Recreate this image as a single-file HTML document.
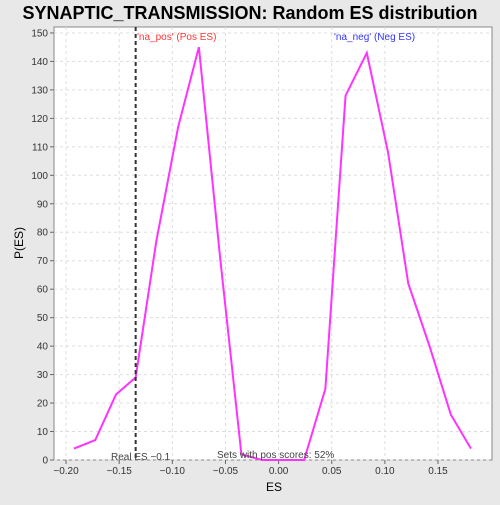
<!DOCTYPE html>
<html><head><meta charset="utf-8"><style>
body{margin:0;background:#e8e8e8;width:500px;height:500px;overflow:hidden;font-family:"Liberation Sans","DejaVu Sans",sans-serif}
</style></head><body>
<svg id="c" width="500" height="500" xmlns="http://www.w3.org/2000/svg">
<text x="250" y="19" text-anchor="middle" font-size="18" font-weight="bold" fill="#000">SYNAPTIC_TRANSMISSION: Random ES distribution</text>
<rect x="54" y="27" width="438" height="433" fill="#fff" stroke="#888"/>
<g id="grid"></g><g id="axes"></g><g id="series"></g>
<text x="274" y="491" text-anchor="middle" font-size="12">ES</text>
<text x="23" y="243" text-anchor="middle" font-size="12" transform="rotate(-90 23 243)">P(ES)</text>
<text x="137" y="40" font-size="10" fill="#ff3333">'na_pos' (Pos ES)</text>
<text x="334" y="40" font-size="10" fill="#3333ff">'na_neg' (Neg ES)</text>
<text x="111" y="460" font-size="10" fill="#444">Real ES −0.1</text>
<text x="217" y="458" font-size="10" fill="#444">Sets with pos scores: 52%</text>
</svg>
<script>
const esValues=[-0.1925,-0.1725,-0.153,-0.1345,-0.115,-0.0945,-0.075,-0.055,-0.035,-0.0155,0.004,0.024,0.044,0.063,0.083,0.103,0.122,0.142,0.162,0.181];
const pValues=[4,7,23,29,77,117,145,71,2,0,0,0,25,128,143,108,62,40,16,4];
const xTicks=[-0.20,-0.15,-0.10,-0.05,0.00,0.05,0.10,0.15];
const yTicks=[0,10,20,30,40,50,60,70,80,90,100,110,120,130,140,150];
const realES=-0.1345;
const NS="http://www.w3.org/2000/svg";
const xs=v=>278.6+v/0.05*53.14;
const ys=v=>460-v*2.847;
function mk(t,a,p){const e=document.createElementNS(NS,t);for(const k in a)e.setAttribute(k,a[k]);p.appendChild(e);return e;}
const g=document.getElementById('grid'),ax=document.getElementById('axes'),s=document.getElementById('series');
xTicks.forEach(v=>{const x=xs(v);
const l=mk('line',{x1:x,x2:x,y1:27,y2:460,stroke:'#ddd','stroke-dasharray':'3,3'},g);


mk('line',{x1:x,x2:x,y1:460,y2:464,stroke:'#666'},ax);
const t=mk('text',{x:x,y:474,'text-anchor':'middle','font-size':'10',fill:'#333'},ax);t.textContent=v.toFixed(2).replace('-','−');

});
yTicks.forEach(v=>{const y=ys(v);
const l=mk('line',{x1:54,x2:492,y1:y,y2:y,stroke:'#ddd','stroke-dasharray':'3,3'},g);


mk('line',{x1:50,x2:54,y1:y,y2:y,stroke:'#666'},ax);
const t=mk('text',{x:48,y:y+3.5,'text-anchor':'end','font-size':'10',fill:'#333'},ax);t.textContent=v;

});
const pl=mk('polyline',{points:esValues.map((v,i)=>xs(v)+','+ys(pValues[i])).join(' '),fill:'none',stroke:'#ff33ff','stroke-width':2},s);


const rl=mk('line',{x1:xs(realES),x2:xs(realES),y1:27,y2:460,stroke:'#333','stroke-width':2,'stroke-dasharray':'4,3'},s);


</script>
</body></html>
